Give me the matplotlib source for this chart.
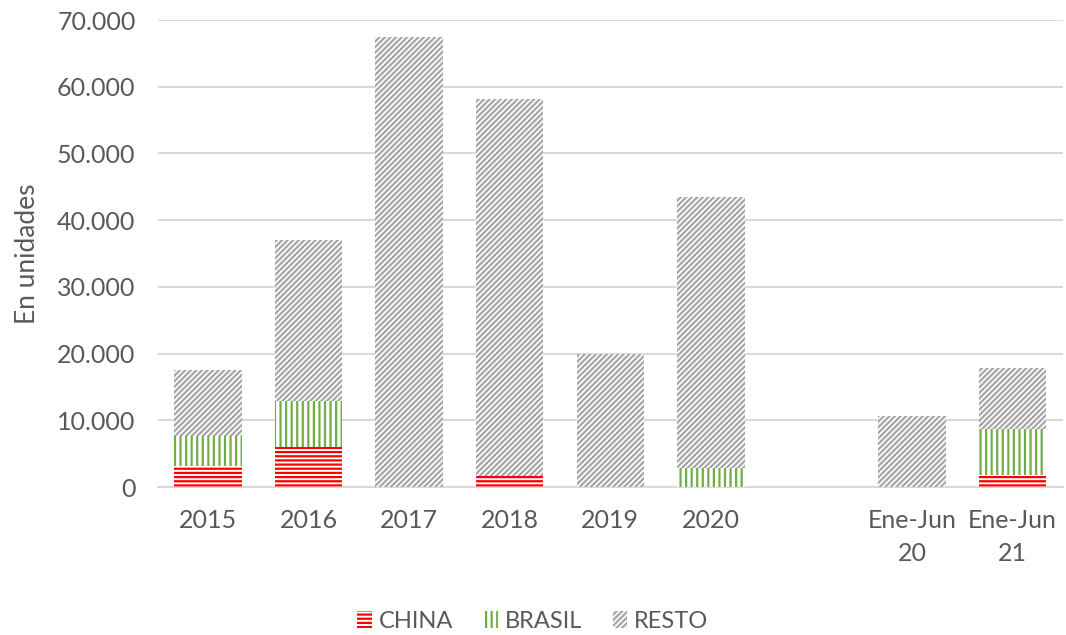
import matplotlib
matplotlib.use("Agg")
import matplotlib.pyplot as plt
import numpy as np

categories = ["2015", "2016", "2017", "2018", "2019", "2020", "", "Ene-Jun\n20", "Ene-Jun\n21"]
china = [3200, 6000, 0, 1650, 0, 0, 0, 0, 1800]
brasil = [4450, 6900, 0, 0, 0, 2850, 0, 0, 6900]
resto = [9900, 24100, 67500, 56500, 19900, 40650, 0, 10600, 9100]
yticks = [0, 10000, 20000, 30000, 40000, 50000, 60000, 70000]
ytick_labels = ["0", "10.000", "20.000", "30.000", "40.000", "50.000", "60.000", "70.000"]

plt.rcParams['font.family'] = ['Lato', 'DejaVu Sans']
plt.rcParams['hatch.linewidth'] = 1.6

fig = plt.figure(figsize=(10.66, 6.35), dpi=100)
ax = fig.add_axes([0.148, 0.233, 0.849, 0.7355])

x = np.arange(len(categories))
china_a = np.array(china)
brasil_a = np.array(brasil)
resto_a = np.array(resto)
w = 0.67

ax.bar(x, china_a, w, color="white", edgecolor="#FF0000", hatch="----", linewidth=0, label="CHINA", zorder=3)
ax.bar(x, brasil_a, w, bottom=china_a, color="white", edgecolor="#70AD47", hatch="|||", linewidth=0, label="BRASIL", zorder=3)
ax.bar(x, resto_a, w, bottom=china_a + brasil_a, color="white", edgecolor="#A6A6A6", hatch="//////", linewidth=0, label="RESTO", zorder=3)

ax.set_xlim(-0.5, len(categories) - 0.5)
ax.set_ylim(0, 70000)
ax.set_yticks(yticks)
ax.set_yticklabels(ytick_labels)
ax.set_xticks(x)
ax.set_xticklabels(categories, linespacing=1.5)
ax.tick_params(axis="both", length=0, labelsize=18, colors="#595959")
ax.tick_params(axis="y", pad=16)
ax.tick_params(axis="x", pad=16)
ax.yaxis.grid(True, color="#D9D9D9", linewidth=1.5, zorder=0)
ax.set_axisbelow(True)
for s in ["top", "right", "left"]:
    ax.spines[s].set_visible(False)
ax.spines["bottom"].set_color("#D9D9D9")
ax.spines["bottom"].set_linewidth(1.5)
ax.set_ylabel("En unidades", fontsize=19, color="#595959", labelpad=12)

leg = fig.legend(loc="center", bbox_to_anchor=(0.5, 0.022), ncol=3, frameon=False,
                 fontsize=17, handlelength=0.6, handleheight=0.7, handletextpad=0.3,
                 columnspacing=1.3)
for t in leg.get_texts():
    t.set_color("#595959")

fig.savefig("out.png", dpi=100)
